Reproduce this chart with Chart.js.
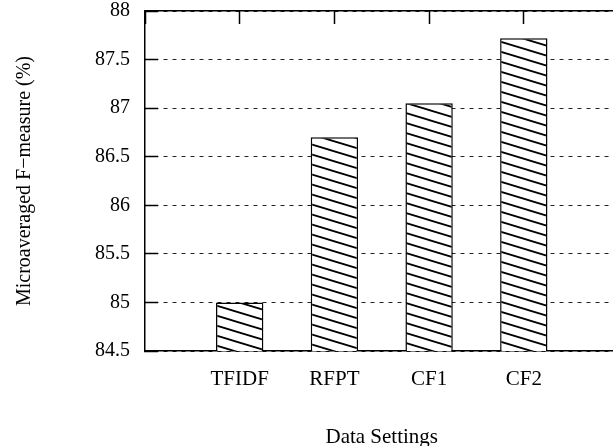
<!DOCTYPE html>
<html><head><meta charset="utf-8">
<script src="https://cdn.jsdelivr.net/npm/chart.js@4/dist/chart.umd.min.js"></script>
<style>
html,body{margin:0;padding:0;overflow:hidden;background:#fff;width:613px;height:446px}
#wrap{position:relative;width:630px;height:446px}
</style></head><body>
<div id="wrap"><canvas id="c" width="630" height="446"></canvas></div>
<script>
const categories = ['TFIDF', 'RFPT', 'CF1', 'CF2'];
const fMeasure = [85.0, 86.7, 87.05, 87.72];
const yTickValues = [84.5, 85, 85.5, 86, 86.5, 87, 87.5, 88];
const yTitle = 'Microaveraged F\u2212measure (%)';
const xTitle = 'Data Settings';

// empty slots at both ends, as in the original axis range
const labels = [''].concat(categories, ['']);
const values = [null].concat(fMeasure, [null]);

function hatch() {
  const w = 33, h = 10;
  const c = document.createElement('canvas');
  c.width = w; c.height = h;
  const g = c.getContext('2d');
  g.fillStyle = '#fff'; g.fillRect(0, 0, w, h);
  g.strokeStyle = '#000'; g.lineWidth = 1.8;
  const s = h / w;
  for (const dy of [-h, 0, h]) {
    g.beginPath(); g.moveTo(-3, dy - 3 * s); g.lineTo(w + 3, dy + h + 3 * s); g.stroke();
  }
  return g.createPattern(c, 'repeat');
}

const serif = 'Liberation Serif, Times New Roman, serif';

new Chart(document.getElementById('c'), {
  type: 'bar',
  data: {
    labels: labels,
    datasets: [{
      data: values,
      backgroundColor: hatch(),
      borderColor: '#000',
      borderWidth: 1.5,
      borderSkipped: 'start',
      categoryPercentage: 1,
      barPercentage: 0.5,
      xAxisID: 'x',
      yAxisID: 'y'
    }]
  },
  options: {
    responsive: false,
    animation: false,
    layout: { padding: { left: 0, right: 11.5, top: 11, bottom: 0 } },
    plugins: { legend: { display: false }, tooltip: { enabled: false } },
    scales: {
      x: {
        type: 'category',
        position: 'bottom',
        offset: false,
        grid: { display: true, offset: false, drawOnChartArea: false, drawTicks: false },
        border: { display: true, color: '#000', width: 1.5 },
        ticks: { color: '#000', font: { family: serif, size: 21 }, padding: 16, autoSkip: false, maxRotation: 0 },
        title: { display: true, text: xTitle, color: '#000', font: { family: serif, size: 21, lineHeight: 0.8 }, padding: { top: 0, bottom: 0 } },
        afterFit: s => { s.height = 95; s.paddingLeft = 0; s.paddingRight = 0; }
      },
      xTop: {
        type: 'category',
        position: 'top',
        offset: false,
        labels: labels,
        grid: { display: true, offset: false, drawOnChartArea: false, drawTicks: true, tickLength: -13, tickColor: '#000', tickWidth: 1.5 },
        border: { display: true, color: '#000', width: 1.5 },
        ticks: { display: false },
        afterFit: s => { s.height = 0; s.paddingLeft = 0; s.paddingRight = 0; }
      },
      y: {
        type: 'linear',
        position: 'left',
        min: 84.5,
        max: 88,
        afterBuildTicks: s => { s.ticks = yTickValues.map(v => ({ value: v })); },
        grid: { display: true, color: '#222', lineWidth: 1, drawTicks: true, tickLength: -13, tickColor: '#000', tickWidth: 1.5, tickBorderDash: [] },
        border: { display: true, color: '#000', width: 1.5, dash: [4, 5] },
        ticks: { color: '#000', font: { family: serif, size: 20 }, padding: 28, callback: v => String(v) },
        title: { display: true, text: yTitle, color: '#000', font: { family: serif, size: 20 }, padding: { top: 13, bottom: 0 } },
        afterFit: s => { s.width = 145; s.paddingTop = 0; s.paddingBottom = 0; }
      }
    }
  }
});
</script>
</body></html>
